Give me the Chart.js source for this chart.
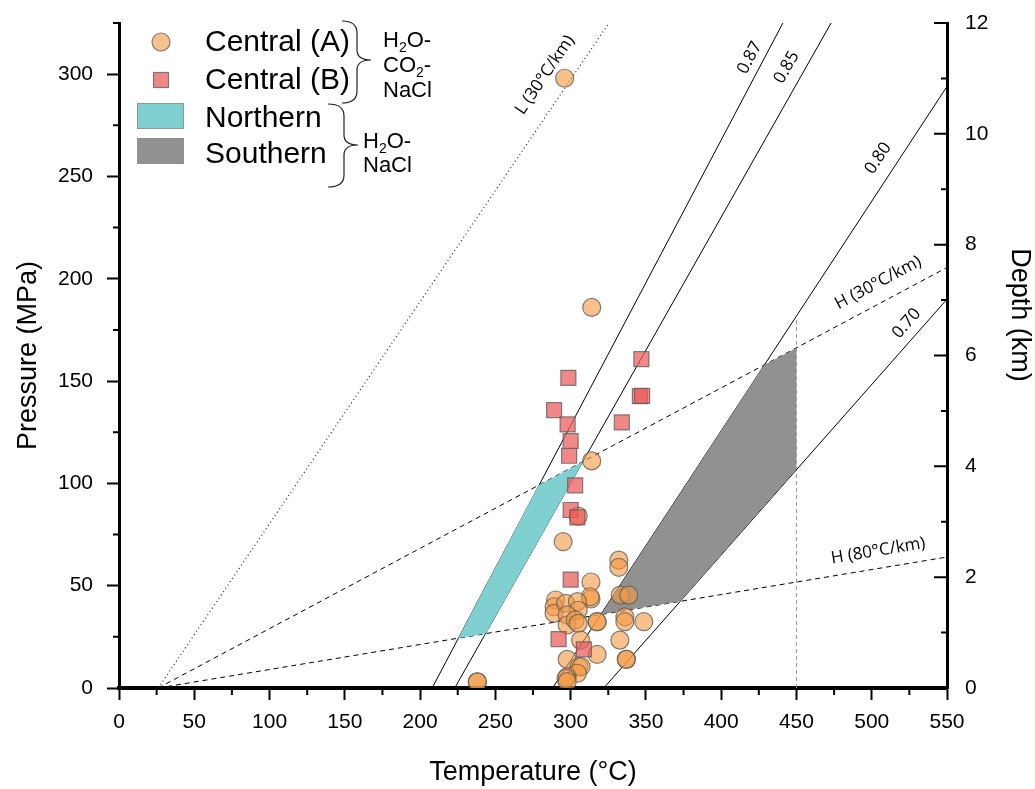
<!DOCTYPE html>
<html>
<head>
<meta charset="utf-8">
<script src="https://cdn.jsdelivr.net/npm/chart.js@4.4.1/dist/chart.umd.min.js"></script>
<style>
    html, body { margin: 0; padding: 0; background: #fff; }
    #wrap { width: 1035px; height: 789px; position: relative; }
</style>
</head>
<body>
<div id="wrap"><canvas id="ptChart"></canvas></div>
<script>
// values: [temperature °C, pressure MPa]
var centralA = [
    [296, 298], [314, 186], [314, 111], [295, 71.5], [305, 84],
    [332, 62.5], [332, 59], [313.5, 51.8], [313.5, 43.5], [313, 44.6],
    [290, 43], [289, 39.7], [289, 36.5], [296.7, 41.4], [304.5, 42.2],
    [305, 38], [297.7, 35.7], [297.7, 30.8], [303, 33.2], [305, 31.6],
    [333, 45.4], [338.6, 45.4], [317.6, 32.4], [317.6, 32.4], [336, 34.8],
    [336, 32.4], [348.6, 32.4], [332.7, 23.4], [306.6, 23.4], [317.6, 16.4],
    [337, 14], [337, 14], [297.7, 14], [305.5, 10.4], [307, 10.4],
    [304.5, 7.2], [297.7, 5.5], [297, 4.7], [297.7, 3.1], [238, 3], [238, 3]
];
var centralB = [
    [298.5, 151.6], [289, 135.8], [298, 128.8], [300, 120.7], [299, 113.5],
    [347, 160.7], [346, 142.6], [347.5, 142.8], [334, 129.8], [303, 99],
    [300, 87], [304.5, 83.4], [300, 53], [292, 23.9], [308.8, 18.9]
];
var northernArea = [[225.3, 24.3], [243.7, 26.6], [308.4, 110.7], [278.7, 99.1]];
var southernArea = [[320.3, 36], [428.5, 157.8], [450, 166.2], [450, 106.9], [372.9, 42.4]];

// isochores and geotherms, end points
var iso087 = [[208, 0], [441, 325]];
var iso085 = [[223, 0], [473, 325]];
var iso080 = [[288, 0], [550, 294]];
var iso070 = [[322, 0], [550, 190]];
var geoL30 = [[26, 0], [325, 324.5]];
var geoH30 = [[26, 0], [550, 205.5]];
var geoH80 = [[26, 0], [550, 64]];
var limit450 = [[450, 0], [450, 181]];

var tempTicks = [0, 50, 100, 150, 200, 250, 300, 350, 400, 450, 500, 550];
var pressureTicks = [0, 50, 100, 150, 200, 250, 300];
var depthTicks = [0, 2, 4, 6, 8, 10, 12];

var FONT = '"Liberation Sans", Arial, sans-serif';
var circleFill = 'rgba(244,153,68,0.62)';
var squareFill = 'rgba(236,90,90,0.72)';
var markEdge = 'rgba(90,90,90,0.75)';
var northFill = 'rgb(128,207,209)';
var southFill = 'rgb(145,145,145)';

function xy(list) {
    return list.map(function(p) { return { x: p[0], y: p[1] }; });
}
function closed(list) {
    return xy(list.concat([list[0]]));
}
function lineSet(list, color, dash, width, order) {
    return {
        data: xy(list), showLine: true, pointRadius: 0, borderColor: color,
        borderWidth: width, borderDash: dash, fill: false, tension: 0, order: order
    };
}

var lineLabels = [
    { text: '0.87', at: [419, 308], line: iso087 },
    { text: '0.85', at: [443.5, 303.3], line: iso085 },
    { text: '0.80', at: [504.3, 258.9], line: iso080 },
    { text: '0.70', at: [523.2, 178.2], line: iso070 },
    { text: 'H (30°C/km)', at: [504.3, 198], line: geoH30 },
    { text: 'H (80°C/km)', at: [504.3, 67], line: geoH80 },
    { text: 'L (30°C/km)', at: [283, 299.6], line: geoL30 }
];

function drawChem(ctx, parts, x, y) {
    parts.forEach(function(p) {
        ctx.font = p[1] ? '14px ' + FONT : '22px ' + FONT;
        ctx.fillText(p[0], x, y + (p[1] ? 5 : 0));
        x += ctx.measureText(p[0]).width;
    });
}

function brace(ctx, x0, top, bottom, spine, tipX, tipY) {
    ctx.beginPath();
    ctx.moveTo(x0, top);
    ctx.quadraticCurveTo(spine, top, spine, top + 12);
    ctx.lineTo(spine, tipY - 10);
    ctx.quadraticCurveTo(spine, tipY, tipX, tipY);
    ctx.quadraticCurveTo(spine, tipY, spine, tipY + 10);
    ctx.lineTo(spine, bottom - 12);
    ctx.quadraticCurveTo(spine, bottom, x0, bottom);
    ctx.stroke();
}

// vertical axes: drop Chart.js' label overflow padding so the plot top can sit at 23px
function noEdgePadding(s, width) {
    s.width = width;
    s.paddingTop = 0;
    s.paddingBottom = 0;
}

var overlay = {
    id: 'overlay',
    afterDatasetsDraw: function(chart) {
        var ctx = chart.ctx, sx = chart.scales.x, sy = chart.scales.y;
        ctx.save();
        ctx.fillStyle = '#000';
        ctx.font = '17px "Open Sans", "DejaVu Sans", sans-serif';
        ctx.textAlign = 'center';
        ctx.textBaseline = 'middle';
        lineLabels.forEach(function(l) {
            var x1 = sx.getPixelForValue(l.line[0][0]), y1 = sy.getPixelForValue(l.line[0][1]);
            var x2 = sx.getPixelForValue(l.line[1][0]), y2 = sy.getPixelForValue(l.line[1][1]);
            ctx.save();
            ctx.translate(sx.getPixelForValue(l.at[0]), sy.getPixelForValue(l.at[1]));
            ctx.rotate(Math.atan2(y2 - y1, x2 - x1));
            ctx.fillText(l.text, 0, 0);
            ctx.restore();
        });
        ctx.restore();
    },
    afterDraw: function(chart) {
        var ctx = chart.ctx, sx = chart.scales.x, sy = chart.scales.y, sd = chart.scales.y2;
        var area = chart.chartArea;
        ctx.save();
        ctx.strokeStyle = '#000';
        ctx.lineWidth = 2;
        ctx.beginPath();
        // minor ticks
        for (var t = 25; t < 550; t += 50) {
            var px = sx.getPixelForValue(t);
            ctx.moveTo(px, area.bottom); ctx.lineTo(px, area.bottom + 7);
        }
        for (var p = 25; p <= 325; p += 50) {
            var py = sy.getPixelForValue(p);
            ctx.moveTo(area.left - 6, py); ctx.lineTo(area.left, py);
        }
        for (var d = 1; d <= 12; d++) {
            var dy = sd.getPixelForValue(d);
            ctx.moveTo(area.right, dy); ctx.lineTo(area.right - (d % 2 ? 6 : 13), dy);
        }
        ctx.stroke();

        // right axis title
        ctx.save();
        ctx.translate(1019, 315);
        ctx.rotate(Math.PI / 2);
        ctx.fillStyle = '#000';
        ctx.font = '27px ' + FONT;
        ctx.textAlign = 'center';
        ctx.textBaseline = 'middle';
        ctx.fillText('Depth (km)', 0, 0);
        ctx.restore();

        // legend
        ctx.lineWidth = 1.2;
        ctx.fillStyle = circleFill;
        ctx.strokeStyle = markEdge;
        ctx.beginPath(); ctx.arc(161, 42, 9, 0, Math.PI * 2); ctx.fill(); ctx.stroke();
        ctx.fillStyle = squareFill;
        ctx.fillRect(153.5, 72.5, 15, 15); ctx.strokeRect(153.5, 72.5, 15, 15);
        ctx.strokeStyle = 'rgba(120,120,120,0.7)';
        ctx.lineWidth = 1;
        ctx.fillStyle = northFill;
        ctx.fillRect(137.5, 103.5, 46, 25); ctx.strokeRect(137.5, 103.5, 46, 25);
        ctx.fillStyle = southFill;
        ctx.fillRect(137.5, 138.5, 46, 25); ctx.strokeRect(137.5, 138.5, 46, 25);

        ctx.fillStyle = '#000';
        ctx.textAlign = 'left';
        ctx.textBaseline = 'alphabetic';
        ctx.font = '30px ' + FONT;
        ctx.fillText('Central (A)', 205, 51);
        ctx.fillText('Central (B)', 205, 89);
        ctx.fillText('Northern', 205, 127);
        ctx.fillText('Southern', 205, 163);

        ctx.strokeStyle = '#222';
        ctx.lineWidth = 1.2;
        brace(ctx, 342, 21, 103, 357, 371, 60);
        brace(ctx, 328, 104, 187, 344, 358, 145);

        drawChem(ctx, [['H', 0], ['2', 1], ['O-', 0]], 383, 47);
        drawChem(ctx, [['CO', 0], ['2', 1], ['-', 0]], 383, 72);
        drawChem(ctx, [['NaCl', 0]], 383, 97);
        drawChem(ctx, [['H', 0], ['2', 1], ['O-', 0]], 363, 148);
        drawChem(ctx, [['NaCl', 0]], 363, 172);
        ctx.restore();
    }
};

document.addEventListener('DOMContentLoaded', function() {
    var ctx = document.getElementById('ptChart').getContext('2d');

    var datasets = [
        { data: xy(centralA), pointStyle: 'circle', pointRadius: 9, backgroundColor: circleFill,
          borderColor: markEdge, borderWidth: 1.2, showLine: false, order: 1 },
        { data: xy(centralB), pointStyle: 'rect', pointRadius: 10.6, backgroundColor: squareFill,
          borderColor: markEdge, borderWidth: 1.2, showLine: false, order: 0 },
        { data: closed(northernArea), showLine: true, pointRadius: 0, borderWidth: 0,
          borderColor: northFill, backgroundColor: northFill, fill: 'shape', tension: 0, order: 2 },
        { data: closed(southernArea), showLine: true, pointRadius: 0, borderWidth: 0,
          borderColor: southFill, backgroundColor: southFill, fill: 'shape', tension: 0, order: 2 },
        lineSet(iso087, '#000', [], 1, 3),
        lineSet(iso085, '#000', [], 1, 3),
        lineSet(iso080, '#000', [], 1, 3),
        lineSet(iso070, '#000', [], 1, 3),
        lineSet(geoL30, '#333', [1, 3], 1.3, 3),
        lineSet(geoH30, '#000', [5, 4], 1, 3),
        lineSet(geoH80, '#000', [5, 4], 1, 3),
        lineSet(limit450, '#999', [4, 3], 1, 4)
    ];

    new Chart(ctx, {
        type: 'scatter',
        data: { datasets: datasets },
        options: {
            responsive: true,
            maintainAspectRatio: false,
            animation: false,
            events: [],
            layout: { padding: { top: 23, left: 0, right: 0, bottom: 0 } },
            plugins: { legend: { display: false }, tooltip: { enabled: false } },
            scales: {
                x: {
                    type: 'linear', min: 0, max: 550,
                    afterBuildTicks: function(s) { s.ticks = tempTicks.map(function(v) { return { value: v }; }); },
                    afterFit: function(s) { s.height = 101; s.paddingLeft = 0; s.paddingRight = 0; },
                    ticks: { color: '#000', font: { family: FONT, size: 21 }, padding: 10, maxRotation: 0 },
                    grid: { drawOnChartArea: false, drawTicks: true, tickLength: 12, tickWidth: 2, tickColor: '#000' },
                    border: { display: true, color: '#000', width: 4 },
                    title: { display: true, text: 'Temperature (°C)', color: '#000',
                             font: { family: FONT, size: 27 }, padding: { top: 20, bottom: 0 } }
                },
                y: {
                    type: 'linear', position: 'left', min: 0, max: 325,
                    afterBuildTicks: function(s) { s.ticks = pressureTicks.map(function(v) { return { value: v }; }); },
                    afterFit: function(s) { noEdgePadding(s, 119); },
                    ticks: { color: '#000', font: { family: FONT, size: 21 }, padding: 14 },
                    grid: { drawOnChartArea: false, drawTicks: true, tickLength: 12, tickWidth: 2, tickColor: '#000' },
                    border: { display: true, color: '#000', width: 3 },
                    title: { display: true, text: 'Pressure (MPa)', color: '#000',
                             font: { family: FONT, size: 27 }, padding: { top: 12, bottom: 0 } }
                },
                y2: {
                    type: 'linear', position: 'right', min: 0, max: 12,
                    afterBuildTicks: function(s) { s.ticks = depthTicks.map(function(v) { return { value: v }; }); },
                    afterFit: function(s) { noEdgePadding(s, 88); },
                    ticks: { color: '#000', font: { family: FONT, size: 21 }, padding: 18 },
                    grid: { drawOnChartArea: false, drawTicks: true, tickLength: 0, tickColor: '#000' },
                    border: { display: true, color: '#000', width: 3 },
                    title: { display: false }
                }
            }
        },
        plugins: [overlay]
    });
});
</script>
</body>
</html>
